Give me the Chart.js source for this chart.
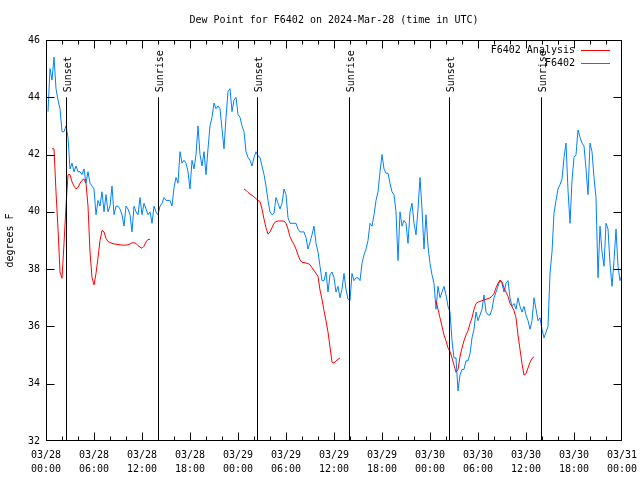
<!DOCTYPE html>
<html>
<head>
<meta charset="utf-8">
<script src="https://cdn.jsdelivr.net/npm/chart.js@4"></script>
<style>
html, body { margin: 0; padding: 0; background: #fff; }
#wrap { width: 640px; height: 480px; }
</style>
</head>
<body>
<div id="wrap"><canvas id="chart"></canvas></div>
<script>
// samples every 15 minutes, hours since 03/28 00:00 UTC
const STEP = 0.25;

const tickDays = ['03/28', '03/28', '03/28', '03/28', '03/29', '03/29', '03/29', '03/29',
    '03/30', '03/30', '03/30', '03/30', '03/31'];
const tickTimes = ['00:00', '06:00', '12:00', '18:00', '00:00', '06:00', '12:00', '18:00',
    '00:00', '06:00', '12:00', '18:00', '00:00'];

// F6402 observations, first sample at index 1
const stationStart = 1;
const stationValues = [
    43.5, 45.0, 44.6, 45.4, 44.3, 43.9, 43.6, 42.8, 42.8, 43.0, 42.6, 41.5, 41.7, 41.4, 41.6, 41.4,
    41.4, 41.3, 41.5, 41.0, 41.4, 41.0, 40.9, 40.8, 39.9, 40.4, 40.2, 40.7, 40.0, 40.6, 40.0, 40.2,
    40.9, 39.9, 40.2, 40.2, 40.1, 39.9, 39.5, 40.2, 40.1, 39.9, 39.3, 40.2, 40.0, 39.9, 40.5, 39.9,
    40.3, 40.1, 39.9, 40.0, 39.6, 40.2, 40.0, 39.9, 40.2, 40.3, 40.5, 40.4, 40.4, 40.4, 40.2, 40.85,
    41.2, 41.0, 42.1, 41.7, 41.8, 41.7, 41.4, 40.8, 41.8, 41.5, 42.0, 43.0, 42.0, 41.6, 42.1, 41.3,
    42.2, 43.0, 43.3, 43.8, 43.6, 43.7, 43.6, 42.9, 42.2, 43.3, 44.2, 44.3, 43.5, 43.9, 44.0, 43.4,
    43.3, 43.0, 42.8, 42.1, 41.9, 41.8, 41.6, 41.9, 42.1, 41.95, 41.9, 41.6, 41.3, 40.9, 40.4, 40.0,
    39.9, 39.95, 40.5, 40.3, 40.1, 40.3, 40.8, 40.6, 39.8, 39.6, 39.6, 39.6, 39.6, 39.4, 39.3, 39.3,
    39.3, 39.1, 38.7, 38.95, 39.2, 39.5, 38.9, 38.6, 38.1, 37.6, 37.6, 37.9, 37.2, 37.8, 37.9, 37.7,
    37.2, 37.4, 37.0, 37.3, 37.85, 37.3, 36.95, 36.9, 37.85, 37.6, 37.7, 37.7, 37.6, 38.2, 38.5, 38.7,
    39.0, 39.6, 39.5, 39.9, 40.4, 40.7, 41.4, 42.0, 41.5, 41.35, 41.35, 41.0, 40.7, 40.6, 40.0, 38.3,
    40.0, 39.5, 39.7, 39.6, 38.9, 40.0, 40.3, 39.6, 39.2, 40.1, 41.2, 40.1, 38.7, 39.9, 38.8, 38.2,
    37.8, 37.5, 36.6, 37.4, 37.0, 37.2, 37.4, 37.1, 36.7, 36.5, 35.5, 34.9, 34.9, 33.75, 34.3, 34.5,
    34.5, 34.8, 34.8, 35.05, 35.6, 35.9, 36.5, 36.2, 36.4, 36.6, 37.1, 36.5, 36.4, 36.4, 36.6, 37.0,
    37.2, 37.4, 37.6, 37.5, 37.2, 37.5, 37.6, 37.0, 36.7, 36.8, 36.6, 37.0, 36.7, 36.5, 36.7, 36.4,
    36.2, 35.9, 36.2, 37.0, 36.6, 36.2, 36.3, 35.9, 35.6, 35.8, 36.0, 37.85, 38.6, 39.95, 40.4, 40.8,
    40.95, 41.15, 41.9, 42.4, 40.76, 39.6, 41.1, 41.9, 42.0, 42.86, 42.6, 42.4, 42.3, 41.5, 40.6, 42.4,
    42.1, 41.2, 40.5, 37.7, 39.5, 38.6, 38.1, 39.6, 39.4, 38.2, 37.4, 38.3, 39.4, 38.1, 37.6, 37.8
];

// F6402 Analysis, three runs; start index of each run
const analysisStarts = [3, 99, 195];
const analysisRun1 = [
    42.2, 42.2, 40.7, 39.4, 37.9, 37.68, 38.9, 40.2, 41.3, 41.3, 41.05, 40.9, 40.8, 40.85, 41.0, 41.1,
    41.15, 41.0, 40.2, 38.6, 37.7, 37.45, 37.85, 38.4, 39.0, 39.35, 39.3, 39.07, 38.96, 38.93, 38.9, 38.88,
    38.87, 38.86, 38.85, 38.84, 38.84, 38.84, 38.85, 38.88, 38.92, 38.92, 38.9, 38.82, 38.77, 38.73, 38.8, 38.95,
    39.04, 39.04
];
const analysisRun2 = [
    40.8, 40.75, 40.68, 40.62, 40.58, 40.52, 40.46, 40.4, 40.36, 40.1, 39.75, 39.45, 39.22, 39.3, 39.45, 39.6,
    39.66, 39.68, 39.68, 39.68, 39.68, 39.6, 39.4, 39.13, 38.98, 38.86, 38.7, 38.5, 38.32, 38.24, 38.23, 38.21,
    38.2, 38.15, 38.05, 37.95, 37.85, 37.75, 37.27, 36.95, 36.55, 36.2, 35.8, 35.28, 34.75, 34.72, 34.8, 34.85,
    34.9
];
const analysisRun3 = [
    36.9, 36.6, 36.3, 36.0, 35.7, 35.5, 35.25, 35.12, 34.9, 34.65, 34.4, 34.5, 34.94, 35.25, 35.5, 35.7,
    35.85, 36.1, 36.3, 36.6, 36.8, 36.85, 36.87, 36.9, 36.92, 36.95, 36.97, 37.0, 37.05, 37.15, 37.35, 37.5,
    37.62, 37.55, 37.35, 37.2, 37.05, 36.8, 36.7, 36.55, 36.3, 35.7, 35.2, 34.7, 34.3, 34.35, 34.55, 34.75,
    34.88, 34.94
];

const eventNames = ['Sunset', 'Sunrise', 'Sunset', 'Sunrise', 'Sunset', 'Sunrise'];
const eventHours = [2.55, 14.03, 26.42, 37.92, 50.42, 61.92];

const FONT = '"DejaVu Sans Mono", "Liberation Mono", monospace';
const RED = '#ff0000';
const BLUE = '#0080ff';

// build point lists
const stationPoints = stationValues.map((v, i) => ({ x: (stationStart + i) * STEP, y: v }));
const analysisPoints = [];
[analysisRun1, analysisRun2, analysisRun3].forEach((run, r) => {
    run.forEach((v, i) => analysisPoints.push({ x: (analysisStarts[r] + i) * STEP, y: v }));
    // break the line between runs
    analysisPoints.push({ x: (analysisStarts[r] + run.length) * STEP, y: null });
});

// gnuplot-like frame, inward ticks, sun lines and key
const decorations = {
    id: 'decorations',
    afterDatasetsDraw(chart) {
        const { ctx, chartArea: a, scales: { x, y } } = chart;
        const L = Math.round(a.left) + 0.5, R = Math.round(a.right) - 0.5;
        const T = Math.round(a.top) + 0.5, B = Math.round(a.bottom) - 0.5;
        ctx.save();
        ctx.strokeStyle = '#000';
        ctx.lineWidth = 1;
        ctx.beginPath();
        // x ticks, major every 6h and minor every 2h
        for (let h = 2; h < 72; h += 2) {
            const px = Math.round(x.getPixelForValue(h)) + 0.5;
            const len = h % 6 === 0 ? 8 : 4;
            ctx.moveTo(px, B); ctx.lineTo(px, B - len);
            ctx.moveTo(px, T); ctx.lineTo(px, T + len);
        }
        // y ticks
        for (let v = 34; v < 46; v += 2) {
            const py = Math.round(y.getPixelForValue(v)) + 0.5;
            ctx.moveTo(L, py); ctx.lineTo(L + 8, py);
            ctx.moveTo(R, py); ctx.lineTo(R - 8, py);
        }
        // sunrise / sunset lines
        eventHours.forEach(h => {
            const px = Math.round(x.getPixelForValue(h)) + 0.5;
            ctx.moveTo(px, y.getPixelForValue(44));
            ctx.lineTo(px, B);
        });
        ctx.stroke();
        ctx.strokeRect(L, T, R - L, B - T);

        ctx.fillStyle = '#000';
        ctx.font = '10px ' + FONT;
        eventNames.forEach((name, k) => {
            const px = Math.round(x.getPixelForValue(eventHours[k]));
            ctx.save();
            ctx.translate(px + 5, y.getPixelForValue(44) - 5);
            ctx.rotate(-Math.PI / 2);
            ctx.textAlign = 'left';
            ctx.textBaseline = 'alphabetic';
            ctx.fillText(name, 0, 0);
            ctx.restore();
        });

        // key
        const keyItems = [['F6402 Analysis', RED], ['F6402', BLUE]];
        ctx.textAlign = 'right';
        ctx.textBaseline = 'middle';
        keyItems.forEach(([label, color], k) => {
            const ky = Math.round(a.top) + 10 + k * 13;
            ctx.fillStyle = '#000';
            ctx.fillText(label, a.right - 47, ky);
            ctx.strokeStyle = color;
            ctx.beginPath();
            ctx.moveTo(a.right - 41, ky + 0.5);
            ctx.lineTo(a.right - 12, ky + 0.5);
            ctx.stroke();
        });
        ctx.restore();
    }
};

Chart.defaults.color = '#000';
Chart.defaults.font.family = FONT;
Chart.defaults.font.size = 10;

new Chart(document.getElementById('chart'), {
    type: 'line',
    data: {
        datasets: [{
            label: 'F6402 Analysis',
            data: analysisPoints,
            borderColor: RED,
            borderWidth: 1,
            pointRadius: 0,
            spanGaps: false,
            tension: 0
        }, {
            label: 'F6402',
            data: stationPoints,
            borderColor: BLUE,
            borderWidth: 1,
            pointRadius: 0,
            tension: 0
        }]
    },
    plugins: [decorations],
    options: {
        responsive: true,
        maintainAspectRatio: false,
        animation: false,
        events: [],
        layout: { padding: { left: 0, right: 18, top: 0, bottom: 0 } },
        plugins: {
            legend: { display: false },
            tooltip: { enabled: false },
            title: {
                display: true,
                text: 'Dew Point for F6402 on 2024-Mar-28 (time in UTC)',
                fullSize: false,
                font: { size: 10, weight: 'normal', lineHeight: 1.2 },
                padding: { top: 14, bottom: 14 }
            }
        },
        scales: {
            x: {
                type: 'linear',
                min: 0,
                max: 72,
                grid: { display: false, drawTicks: false },
                border: { display: false },
                afterFit: s => {
                    s.height = 39;
                    s.paddingLeft = 0;
                    s.paddingRight = 0;
                },
                ticks: {
                    stepSize: 6,
                    autoSkip: false,
                    maxRotation: 0,
                    padding: 7,
                    font: { size: 10, lineHeight: 1.4 },
                    callback: v => {
                        const k = Math.round(v / 6);
                        return [tickDays[k], tickTimes[k]];
                    }
                }
            },
            y: {
                min: 32,
                max: 46,
                grid: { display: false, drawTicks: false },
                border: { display: false },
                afterFit: s => {
                    s.width = 46;
                    s.paddingTop = 0;
                    s.paddingBottom = 0;
                },
                ticks: { stepSize: 2, padding: 6 },
                title: {
                    display: true,
                    text: 'degrees F',
                    font: { size: 10 },
                    padding: { top: 4, bottom: 4 }
                }
            }
        }
    }
});
</script>
</body>
</html>
